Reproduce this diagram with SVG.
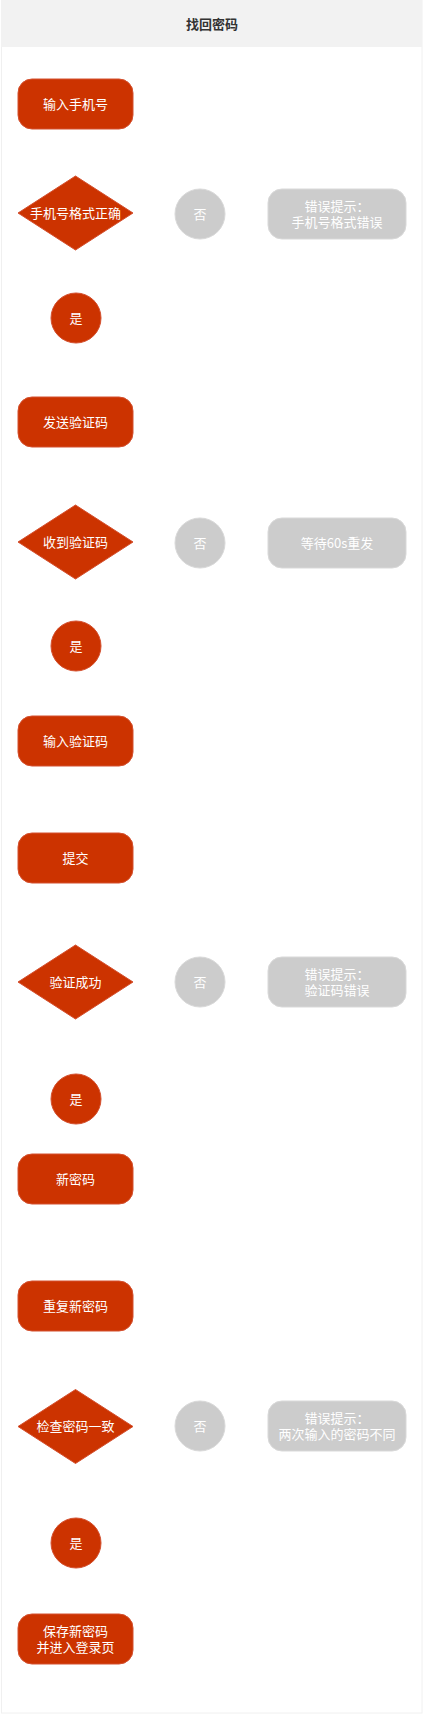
<svg xmlns="http://www.w3.org/2000/svg" width="423" height="1714" viewBox="0 0 423 1714">
<style>
text{font-family:"Noto Sans CJK SC","Liberation Sans",sans-serif;font-size:13px;text-anchor:middle;fill:#ffffff}
.title{font-weight:bold;fill:#333333}
.red{fill:#cc3300;stroke:#d4502f;stroke-width:1}
.gray{fill:#cccccc;stroke:#d9d9d9;stroke-width:1}
</style>
<defs>
<rect id="box" x="0" y="0" width="115" height="50" rx="14" ry="14"/>
<rect id="err" x="0" y="0" width="138" height="50" rx="14" ry="14"/>
<polygon id="dia" points="0,0 57.5,-37 115,0 57.5,37"/>
</defs>
<rect x="1.5" y="0.5" width="420.5" height="1712.5" fill="#ffffff" stroke="#f0f0f0" stroke-width="1"/>
<g id="title">
<rect x="1" y="0" width="421" height="47" fill="#f2f2f2"/>
<text class="title" x="212" y="28.5">找回密码</text>
</g>
<g id="connectors"></g>
<g id="n1"><use href="#box" x="18" y="79" class="red"/><text x="75.5" y="108.5">输入手机号</text></g>
<g id="d1"><use href="#dia" x="18" y="213" class="red"/><text x="75.5" y="217.5">手机号格式正确</text></g>
<g id="no1"><circle cx="200" cy="214" r="25" class="gray"/><text x="200" y="218.5">否</text></g>
<g id="e1"><use href="#err" x="268" y="189" class="gray"/><text x="337" y="211">错误提示：</text><text x="337" y="227">手机号格式错误</text></g>
<g id="yes1"><circle cx="76" cy="318" r="25" class="red"/><text x="76" y="322.5">是</text></g>
<g id="n2"><use href="#box" x="18" y="397" class="red"/><text x="75.5" y="426.5">发送验证码</text></g>
<g id="d2"><use href="#dia" x="18" y="542" class="red"/><text x="75.5" y="546.5">收到验证码</text></g>
<g id="no2"><circle cx="200" cy="543" r="25" class="gray"/><text x="200" y="547.5">否</text></g>
<g id="e2"><use href="#err" x="268" y="518" class="gray"/><text x="337" y="547.5">等待60s重发</text></g>
<g id="yes2"><circle cx="76" cy="646" r="25" class="red"/><text x="76" y="650.5">是</text></g>
<g id="n3"><use href="#box" x="18" y="716" class="red"/><text x="75.5" y="745.5">输入验证码</text></g>
<g id="n4"><use href="#box" x="18" y="833" class="red"/><text x="75.5" y="862.5">提交</text></g>
<g id="d3"><use href="#dia" x="18" y="982" class="red"/><text x="75.5" y="986.5">验证成功</text></g>
<g id="no3"><circle cx="200" cy="982" r="25" class="gray"/><text x="200" y="986.5">否</text></g>
<g id="e3"><use href="#err" x="268" y="957" class="gray"/><text x="337" y="979">错误提示：</text><text x="337" y="995">验证码错误</text></g>
<g id="yes3"><circle cx="76" cy="1099" r="25" class="red"/><text x="76" y="1103.5">是</text></g>
<g id="n5"><use href="#box" x="18" y="1154" class="red"/><text x="75.5" y="1183.5">新密码</text></g>
<g id="n6"><use href="#box" x="18" y="1281" class="red"/><text x="75.5" y="1310.5">重复新密码</text></g>
<g id="d4"><use href="#dia" x="18" y="1426.5" class="red"/><text x="75.5" y="1431">检查密码一致</text></g>
<g id="no4"><circle cx="200" cy="1426" r="25" class="gray"/><text x="200" y="1430.5">否</text></g>
<g id="e4"><use href="#err" x="268" y="1401" class="gray"/><text x="337" y="1423">错误提示：</text><text x="337" y="1439">两次输入的密码不同</text></g>
<g id="yes4"><circle cx="76" cy="1543" r="25" class="red"/><text x="76" y="1547.5">是</text></g>
<g id="n7"><use href="#box" x="18" y="1614" class="red"/><text x="75.5" y="1635.5">保存新密码</text><text x="75.5" y="1651.5">并进入登录页</text></g>
</svg>
